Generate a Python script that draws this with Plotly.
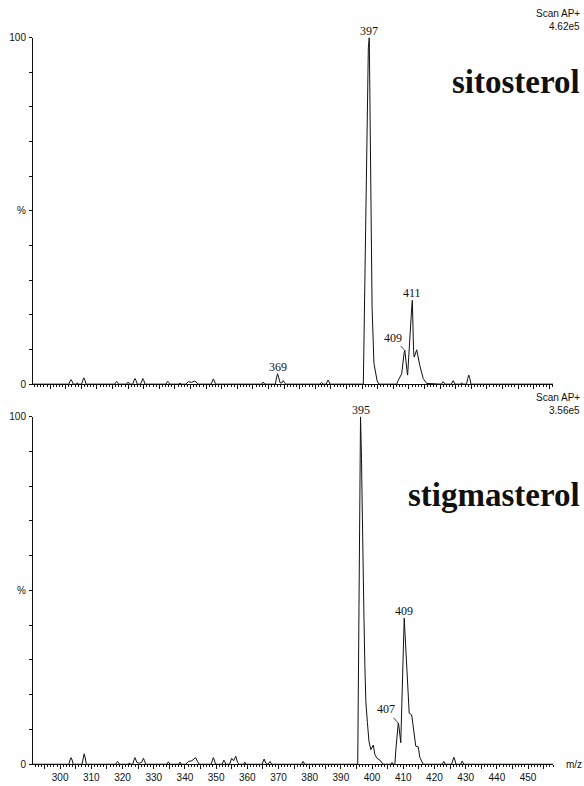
import plotly.graph_objects as go

# ---------------- data ----------------
# sitosterol spectrum profile (m/z, % relative intensity)
sito_mz = [289.5,
           301.0, 301.35, 301.7, 302.05, 302.4,
           303.4, 303.7, 304.0,
           305.1, 305.45, 305.8, 306.15, 306.5,
           315.7, 316.0, 316.3, 316.6, 316.9,
           319.5, 320.0, 320.5,
           321.5, 321.85, 322.2, 322.55, 322.9,
           324.0, 324.35, 324.7, 325.05, 325.4,
           332.1, 332.4, 332.7, 333.0, 333.3,
           336.2, 336.6, 337.0,
           338.5, 339.3, 340.3, 341.4, 342.0, 342.5,
           346.6, 346.95, 347.3, 347.65, 348.0,
           362.8, 363.3, 363.8,
           367.2, 367.55, 367.9, 368.3, 368.7, 369.2, 369.7, 370.1, 370.5,
           381.5, 382.0, 382.5,
           383.5, 383.8, 384.1, 384.4, 384.7,
           395.4, 395.9, 396.5, 397.0, 397.3, 397.8, 398.2, 398.8, 399.8, 400.4,
           406.1, 406.6, 407.7, 408.5, 408.7, 409.5, 409.6, 410.9, 411.1, 411.5,
           411.7, 412.5, 413.5, 414.6, 415.7,
           420.4, 421.0, 421.6,
           423.6, 424.2, 424.8,
           426.5, 426.9, 427.3,
           428.5, 428.85, 429.2, 429.55, 429.9,
           456.2]
sito_pct = [0,
            0, 0.8, 1.3, 0.8, 0,
            0, 0.4, 0,
            0, 1.1, 1.8, 1.1, 0,
            0, 0.5, 0.8, 0.5, 0,
            0, 0.6, 0,
            0, 1.0, 1.6, 1.0, 0,
            0, 1.0, 1.6, 1.0, 0,
            0, 0.5, 0.8, 0.5, 0,
            0, 0.3, 0,
            0, 0.7, 0.5, 0.9, 0.4, 0,
            0, 0.9, 1.5, 0.9, 0,
            0, 0.6, 0,
            0, 1.8, 3.0, 1.8, 0.4, 0.3, 1.0, 0.5, 0,
            0, 0.5, 0,
            0, 0.7, 1.2, 0.7, 0,
            0, 33, 71, 97, 100, 50, 22, 6, 1, 0,
            0, 1.1, 3.0, 9.2, 9.7, 3.0, 2.6, 22, 24.2, 9.7,
            7.8, 9.9, 5.4, 1.6, 0.2,
            0, 0.7, 0,
            0, 1.0, 0,
            0, 0.4, 0,
            0, 1.6, 2.6, 1.6, 0,
            0]

# stigmasterol spectrum profile (m/z, % relative intensity)
stig_mz = [291.3,
           302.8, 303.15, 303.5, 303.85, 304.2,
           307.0, 307.35, 307.7, 308.05, 308.4,
           317.8, 318.1, 318.4, 318.7, 319.0,
           321.9, 322.2, 322.5,
           323.3, 323.65, 324.0, 324.6, 325.4, 326.1, 326.7, 327.05, 327.4,
           334.2, 334.7, 335.2,
           338.0, 338.4, 338.8,
           340.3, 341.1, 342.2, 343.4, 344.0, 344.6,
           348.4, 348.75, 349.1, 349.45, 349.8,
           351.9, 352.2, 352.5, 352.8, 353.1,
           354.3, 355.0, 355.6, 356.3, 356.9, 357.4,
           358.8, 359.2, 359.6,
           364.8, 365.1, 365.4, 365.9, 366.6, 367.3, 367.8,
           377.4, 377.9, 378.4,
           395.4, 395.8, 396.1, 396.3, 396.6, 396.7, 397.1, 397.4, 397.7, 398.0,
           398.5, 399.0, 399.6, 400.4, 400.9, 401.6, 402.5, 403.5,
           406.0, 406.4, 406.8,
           407.3, 407.7, 408.4, 408.6, 409.2, 410.3, 411.1, 411.6, 411.9, 412.7,
           413.2, 414.0, 414.8, 415.3, 416.4,
           422.5, 423.0, 423.5,
           425.5, 425.85, 426.2, 426.55, 426.9,
           428.4, 428.9, 429.4,
           458.0]
stig_pct = [0,
            0, 1.2, 1.9, 1.2, 0,
            0, 1.8, 3.0, 1.8, 0,
            0, 0.5, 0.8, 0.5, 0,
            0, 0.4, 0,
            0, 1.2, 1.9, 0.5, 0.3, 0.5, 1.7, 1.0, 0,
            0, 0.7, 0,
            0, 0.6, 0,
            0, 0.8, 1.0, 1.9, 0.9, 0,
            0, 1.2, 1.9, 1.2, 0,
            0, 0.7, 1.2, 0.7, 0,
            0, 1.7, 1.0, 2.3, 0.5, 0,
            0, 0.6, 0,
            0, 0.9, 1.5, 0.3, 0, 0.8, 0,
            0, 0.8, 0,
            0, 45, 90, 100, 88, 80, 60, 42, 28, 18,
            12, 6.6, 4.2, 5.5, 2.8, 1.7, 1.2, 0,
            0, 0.5, 0,
            0, 5, 11.8, 11, 6.2, 42, 29, 17, 14.7, 14.2,
            10.8, 5.2, 5.0, 2.0, 0,
            0, 0.8, 0,
            0, 1.2, 2.0, 1.2, 0,
            0, 0.9, 0,
            0]

# tick labels
x_tick_vals = list(range(295, 460, 5))
x_tick_text = [str(v) if v % 10 == 0 else "" for v in x_tick_vals]
y_tick_vals = [0, 50, 100]
y_tick_text = ["0", "%", "100"]

# peak labels: (m/z, %, text)
sito_labels = [(397.3, 100, "397"), (367.9, 3.0, "369"), (411.1, 24.2, "411")]
stig_labels = [(396.3, 100, "395"), (410.3, 42, "409")]

W, H = 584, 786
X0, X1 = 33, 553


def py(p):
    return 1 - p / H


fig = go.Figure()
fig.add_trace(go.Scatter(x=sito_mz, y=sito_pct, mode="lines",
                         line=dict(color="#111", width=1), xaxis="x", yaxis="y",
                         showlegend=False, hoverinfo="skip"))
fig.add_trace(go.Scatter(x=stig_mz, y=stig_pct, mode="lines",
                         line=dict(color="#111", width=1), xaxis="x2", yaxis="y2",
                         showlegend=False, hoverinfo="skip"))

tickfont = dict(family="Liberation Sans, Arial, sans-serif", size=10, color="#111")


def xaxis(rng, labels, anchor):
    return dict(
        domain=[X0 / W, X1 / W], range=rng, anchor=anchor,
        showline=True, linecolor="#111", linewidth=1, mirror=False,
        showgrid=False, zeroline=False,
        tickmode="array", tickvals=x_tick_vals,
        ticktext=x_tick_text if labels else [""] * len(x_tick_vals),
        ticks="outside", ticklen=4, tickwidth=1, tickcolor="#111",
        minor=dict(tickmode="linear", tick0=290, dtick=1, ticks="outside",
                   ticklen=2, tickwidth=1, tickcolor="#111", showgrid=False),
        tickfont=tickfont, ticklabelstandoff=0,
    )


def yaxis(dom, anchor):
    return dict(
        domain=dom, range=[0, 100], anchor=anchor,
        showline=True, linecolor="#111", linewidth=1,
        showgrid=False, zeroline=False,
        tickmode="array", tickvals=y_tick_vals, ticktext=y_tick_text,
        ticks="outside", ticklen=3, tickwidth=1, tickcolor="#111",
        minor=dict(tickmode="linear", tick0=0, dtick=10, ticks="outside",
                   ticklen=3, tickwidth=1, tickcolor="#111", showgrid=False),
        tickfont=tickfont, ticklabelstandoff=1,
    )


fig.update_layout(
    width=W, height=H, margin=dict(l=0, r=0, t=0, b=0),
    paper_bgcolor="white", plot_bgcolor="white",
    xaxis=xaxis([289.5, 456.2], False, "y"),
    yaxis=yaxis([py(384), py(32)], "x"),
    xaxis2=xaxis([291.3, 458.0], True, "y2"),
    yaxis2=yaxis([py(770), py(417)], "x2"),
)

serif = dict(family="Liberation Serif, Times New Roman, serif", size=12, color="#111")
ann = []
for x, y, t in sito_labels:
    ann.append(dict(x=x, y=y, xref="x", yref="y", text=t, showarrow=False,
                    yanchor="bottom", xanchor="center", font=serif, yshift=-2))
for x, y, t in stig_labels:
    ann.append(dict(x=x, y=y, xref="x2", yref="y2", text=t, showarrow=False,
                    yanchor="bottom", xanchor="center", font=serif, yshift=-2))
# leader-line labels
ann.append(dict(x=408.7, y=9.7, xref="x", yref="y", text="409", showarrow=True,
                arrowhead=0, arrowwidth=0.8, arrowcolor="#111", ax=-12, ay=-13,
                font=serif))
ann.append(dict(x=408.4, y=11.8, xref="x2", yref="y2", text="407", showarrow=True,
                arrowhead=0, arrowwidth=0.8, arrowcolor="#111", ax=-12, ay=-14,
                font=serif))

sans = dict(family="Liberation Sans, Arial, sans-serif", size=10, color="#111")
for y1, y2, t2 in [(8, 21, "4.62e5"), (398, 411, "3.56e5")]:
    ann.append(dict(x=582 / W, y=py(y1), xref="paper", yref="paper", text="Scan AP+",
                    showarrow=False, xanchor="right", yanchor="middle", font=sans))
    ann.append(dict(x=582 / W, y=py(y2), xref="paper", yref="paper", text=t2,
                    showarrow=False, xanchor="right", yanchor="middle", font=sans))

bold = dict(family="Liberation Serif, Times New Roman, serif", size=33, color="#111")
ann.append(dict(x=582 / W, y=py(77), xref="paper", yref="paper",
                text="<b>sitosterol</b>", showarrow=False, xanchor="right",
                yanchor="middle", font=bold))
ann.append(dict(x=582 / W, y=py(497), xref="paper", yref="paper",
                text="<b>stigmasterol</b>", showarrow=False, xanchor="right",
                yanchor="middle", font=bold))
ann.append(dict(x=584 / W, y=py(770), xref="paper", yref="paper", text="m/z",
                showarrow=False, xanchor="right", yanchor="middle", font=sans))

fig.update_layout(annotations=ann)
fig.write_html("out.html")
